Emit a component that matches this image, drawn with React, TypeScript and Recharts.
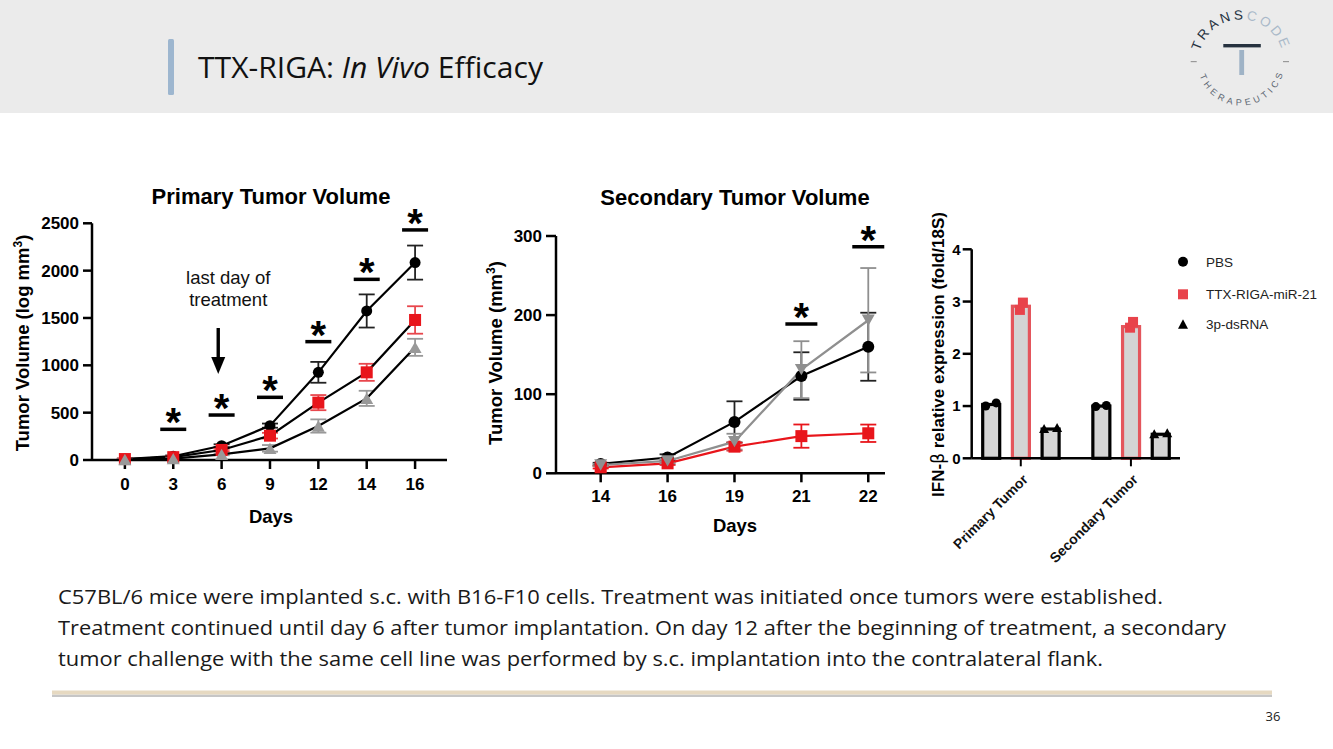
import React from 'react';
import { ComposedChart, BarChart, Bar, Line, XAxis, YAxis, ErrorBar, Scatter, Legend } from 'recharts';

// ---------- Primary tumor volume ----------
const primaryDays = ['0', '3', '6', '9', '12', '14', '16'];
const primaryPBS = [10, 40, 151, 363, 926, 1574, 2085];
const primaryPBSErr = [5, 8, 15, 22, 110, 175, 180];
const primaryTTX = [10, 30, 106, 257, 606, 926, 1479];
const primaryTTXErr = [5, 6, 12, 30, 80, 90, 145];
const primaryDs = [5, 15, 60, 123, 359, 651, 1190];
const primaryDsErr = [3, 5, 10, 35, 70, 80, 90];
const primarySig = [null, 324, 475, 662, 1250, 1908, 2430];
const primaryYTicks = [0, 500, 1000, 1500, 2000, 2500];

// ---------- Secondary tumor volume ----------
const secondaryDays = ['14', '16', '19', '21', '22'];
const secondaryPBS = [11.8, 20, 65, 123, 160];
const secondaryPBSErr = [1.5, 4, 26, 30, 43];
const secondaryTTX = [7.6, 12.6, 33.7, 47, 50.6];
const secondaryTTXErr = [1.5, 2, 5, 14.7, 11];
const secondaryDs = [10.5, 15.6, 40, 131, 193.5];
const secondaryDsErr = [1.5, 3, 10, 36, 66];
const secondarySig = [null, null, null, 188.7, 286.5];
const secondaryYTicks = [0, 100, 200, 300];

// ---------- IFN-beta expression ----------
const ifnGroups = ['Primary Tumor', 'Secondary Tumor'];
const ifnPBS = [1.03, 1.0];
const ifnTTX = [2.91, 2.52];
const ifnDs = [0.56, 0.46];
const ifnPBSReps = [[1.0, 1.06], [0.99, 1.01]];
const ifnTTXReps = [[2.84, 2.98], [2.5, 2.61]];
const ifnDsReps = [[0.56, 0.58], [0.46, 0.48]];
const ifnYTicks = [0, 1, 2, 3, 4];
const legendLabels = ['PBS', 'TTX-RIGA-miR-21', '3p-dsRNA'];

const captionLines = [
  'C57BL/6 mice were implanted s.c. with B16-F10 cells. Treatment was initiated once tumors were established.',
  'Treatment continued until day 6 after tumor implantation. On day 12 after the beginning of treatment, a secondary',
  'tumor challenge with the same cell line was performed by s.c. implantation into the contralateral flank.',
];

const FONT = "'Liberation Sans', Arial, sans-serif";
const RED = '#e8151b';
const GRAY = '#8f8f8f';

const primaryRows = primaryDays.map((d, i) => ({
  idx: i, day: d,
  pbs: primaryPBS[i], pbsErr: primaryPBSErr[i],
  ttx: primaryTTX[i], ttxErr: primaryTTXErr[i],
  ds: primaryDs[i], dsErr: primaryDsErr[i],
}));
const primarySigRows = primarySig.map((v, i) => ({ idx: i, sig: v })).filter((r) => r.sig !== null);

const secondaryRows = secondaryDays.map((d, i) => ({
  idx: i, day: d,
  pbs: secondaryPBS[i], pbsErr: secondaryPBSErr[i],
  ttx: secondaryTTX[i], ttxErr: secondaryTTXErr[i],
  ds: secondaryDs[i], dsErr: secondaryDsErr[i],
}));
const secondarySigRows = secondarySig.map((v, i) => ({ idx: i, sig: v })).filter((r) => r.sig !== null);

const ifnRows = ifnGroups.map((g, i) => ({ group: g, pbs: ifnPBS[i], ttx: ifnTTX[i], ds: ifnDs[i] }));

// ---------- marker renderers ----------
const circleDot = (color: string, r: number) => (p: any) => (
  <circle key={`c${p.index}`} cx={p.cx} cy={p.cy} r={r} fill={color} />
);
const squareDot = (color: string, s: number) => (p: any) => (
  <rect key={`s${p.index}`} x={p.cx - s / 2} y={p.cy - s / 2} width={s} height={s} fill={color} />
);
const triDot = (color: string, w: number, down: boolean) => (p: any) => {
  const h = w * 0.87;
  const pts = down
    ? `${p.cx - w / 2},${p.cy - h / 2} ${p.cx + w / 2},${p.cy - h / 2} ${p.cx},${p.cy + h / 2}`
    : `${p.cx - w / 2},${p.cy + h / 2} ${p.cx + w / 2},${p.cy + h / 2} ${p.cx},${p.cy - h / 2}`;
  return <polygon key={`t${p.index}`} points={pts} fill={color} />;
};

const sigShape = (half: number) => (p: any) => (
  <g>
    <line x1={p.cx - half} x2={p.cx + half} y1={p.cy} y2={p.cy} stroke="#000" strokeWidth={3.5} />
    <text x={p.cx} y={p.cy + 7} textAnchor="middle" fontSize={40} fontWeight={700} fill="#000" fontFamily={FONT}>*</text>
  </g>
);

const ARROW_X = 1.93;
const ARROW_Y = 1394;
const arrowShape = (p: any) => (
  <g>
    <line x1={p.cx} x2={p.cx} y1={p.cy} y2={p.cy + 32} stroke="#000" strokeWidth={3.4} />
    <polygon points={`${p.cx - 7},${p.cy + 29} ${p.cx + 7},${p.cy + 29} ${p.cx},${p.cy + 46}`} fill="#000" />
    <text x={p.cx + 10} y={p.cy - 44.4} textAnchor="middle" fontSize={18.5} fill="#111" fontFamily={FONT}>last day of</text>
    <text x={p.cx + 10} y={p.cy - 21.7} textAnchor="middle" fontSize={18.5} fill="#111" fontFamily={FONT}>treatment</text>
  </g>
);

const axisStyle = { stroke: '#000', strokeWidth: 2.5 };
const tickFont = (size: number) => ({ fill: '#000', fontSize: size, fontWeight: 700 });

function PrimaryChart() {
  return (
    <ComposedChart width={460} height={360} data={primaryRows}
      margin={{ top: 43.3, right: 13, bottom: 50, left: 0 }} style={{ fontFamily: FONT }}>
      <XAxis dataKey="idx" type="number" domain={[-0.68, 6.66]} ticks={[0, 1, 2, 3, 4, 5, 6]}
        tickFormatter={(v: number) => primaryDays[v]} height={30}
        axisLine={axisStyle} tickLine={axisStyle} tickSize={9} tickMargin={9} tick={tickFont(17)} />
      <YAxis type="number" domain={[0, 2500]} ticks={primaryYTicks} width={92}
        axisLine={axisStyle} tickLine={axisStyle} tickSize={9} tickMargin={4} tick={tickFont(17)} />
      <Line dataKey="pbs" stroke="#000" strokeWidth={2.2} dot={circleDot('#000', 5.5)} isAnimationActive={false}>
        <ErrorBar dataKey="pbsErr" width={8} stroke="#222" strokeWidth={1.8} direction="y" isAnimationActive={false} />
      </Line>
      <Line dataKey="ttx" stroke="#000" strokeWidth={2.2} dot={squareDot(RED, 12)} isAnimationActive={false}>
        <ErrorBar dataKey="ttxErr" width={8} stroke="#e8474d" strokeWidth={1.8} direction="y" isAnimationActive={false} />
      </Line>
      <Line dataKey="ds" stroke="#000" strokeWidth={2.2} dot={triDot('#999', 13, false)} isAnimationActive={false}>
        <ErrorBar dataKey="dsErr" width={8} stroke="#999" strokeWidth={1.8} direction="y" isAnimationActive={false} />
      </Line>
      <Scatter data={primarySigRows} dataKey="sig" shape={sigShape(13)} isAnimationActive={false} />
      <Scatter data={[{ idx: ARROW_X, arrow: ARROW_Y }]} dataKey="arrow" shape={arrowShape} isAnimationActive={false} />
    </ComposedChart>
  );
}

function SecondaryChart() {
  return (
    <ComposedChart width={430} height={360} data={secondaryRows}
      margin={{ top: 56, right: 15, bottom: 36.7, left: 0 }} style={{ fontFamily: FONT }}>
      <XAxis dataKey="idx" type="number" domain={[-0.668, 4.25]} ticks={[0, 1, 2, 3, 4]}
        tickFormatter={(v: number) => secondaryDays[v]} height={30}
        axisLine={axisStyle} tickLine={axisStyle} tickSize={9} tickMargin={8} tick={tickFont(17)} />
      <YAxis type="number" domain={[0, 300]} ticks={secondaryYTicks} width={86}
        axisLine={axisStyle} tickLine={axisStyle} tickSize={10} tickMargin={4} tick={tickFont(17)} />
      <Line dataKey="pbs" stroke="#000" strokeWidth={2.2} dot={circleDot('#000', 6)} isAnimationActive={false}>
        <ErrorBar dataKey="pbsErr" width={8} stroke="#222" strokeWidth={1.8} direction="y" isAnimationActive={false} />
      </Line>
      <Line dataKey="ttx" stroke={RED} strokeWidth={2.2} dot={squareDot(RED, 12)} isAnimationActive={false}>
        <ErrorBar dataKey="ttxErr" width={8} stroke={RED} strokeWidth={1.8} direction="y" isAnimationActive={false} />
      </Line>
      <Line dataKey="ds" stroke={GRAY} strokeWidth={2.2} dot={triDot(GRAY, 13, true)} isAnimationActive={false}>
        <ErrorBar dataKey="dsErr" width={8} stroke={GRAY} strokeWidth={1.8} direction="y" isAnimationActive={false} />
      </Line>
      <Scatter data={secondarySigRows} dataKey="sig" shape={sigShape(16)} isAnimationActive={false} />
    </ComposedChart>
  );
}

const makeBarShape = (key: 'pbs' | 'ttx' | 'ds', reps: number[][], stroke: string,
  marker: 'circle' | 'square' | 'triangle', markerColor: string, offsets: number[]) => (props: any) => {
  const { x, y, width, height, index, payload } = props;
  const val = payload[key];
  const base = y + height;
  const ppu = height / val;
  const cx = x + width / 2;
  return (
    <g>
      <rect x={x} y={y} width={width} height={height} fill="#d4d4d4" stroke={stroke} strokeWidth={3.2} />
      {reps[index].map((r, j) => {
        const mx = cx + offsets[j];
        const my = base - r * ppu;
        if (marker === 'circle') return <circle key={j} cx={mx} cy={my} r={4.5} fill={markerColor} />;
        if (marker === 'square') return <rect key={j} x={mx - 5} y={my - 5} width={10} height={10} fill={markerColor} />;
        return <polygon key={j} points={`${mx - 5},${my + 4} ${mx + 5},${my + 4} ${mx},${my - 5}`} fill={markerColor} />;
      })}
    </g>
  );
};

const RotTick = (p: any) => {
  const ax = p.x + 8;
  const ay = p.y + 12;
  return (
    <text x={ax} y={ay} transform={`rotate(-45, ${ax}, ${ay})`} textAnchor="end" fontSize={14}
      fontWeight={700} fill="#111" fontFamily={FONT}>{p.payload.value}</text>
  );
};

const legendMarkers = ['circle', 'square', 'triangle'];
const legendColors = ['#000', '#e8434b', '#000'];
const renderLegend = () => (
  <svg width={160} height={95}>
    {legendLabels.map((lab, i) => {
      const cy = [11.7, 44.3, 74.3][i];
      const m = legendMarkers[i];
      return (
        <g key={lab}>
          {m === 'circle' && <circle cx={8} cy={cy} r={5} fill={legendColors[i]} />}
          {m === 'square' && <rect x={3} y={cy - 5} width={10} height={10} fill={legendColors[i]} />}
          {m === 'triangle' && <polygon points={`3,${cy + 4.5} 13,${cy + 4.5} 8,${cy - 5}`} fill={legendColors[i]} />}
          <text x={31} y={cy + 5} fontSize={13.5} fill="#222" fontFamily={FONT}>{lab}</text>
        </g>
      );
    })}
  </svg>
);

function IfnChart() {
  return (
    <BarChart width={433} height={390} data={ifnRows} barSize={17} barGap={12.7}
      margin={{ top: 49.3, right: 153, bottom: 41.7, left: 0 }} style={{ fontFamily: FONT }}>
      <XAxis dataKey="group" type="category" height={90} padding={{ left: -6, right: -6 }}
        axisLine={axisStyle} tickLine={{ stroke: '#000', strokeWidth: 2 }} tickSize={8} tickMargin={2}
        tick={<RotTick />} interval={0} />
      <YAxis type="number" domain={[0, 4]} ticks={ifnYTicks} width={71.7}
        axisLine={axisStyle} tickLine={axisStyle} tickSize={9} tickMargin={2} tick={tickFont(15)} />
      <Bar dataKey="pbs" isAnimationActive={false}
        shape={makeBarShape('pbs', ifnPBSReps, '#000', 'circle', '#000', [-5.5, 5])} />
      <Bar dataKey="ttx" isAnimationActive={false}
        shape={makeBarShape('ttx', ifnTTXReps, '#e4555c', 'square', '#e8434b', [-1, 2])} />
      <Bar dataKey="ds" isAnimationActive={false}
        shape={makeBarShape('ds', ifnDsReps, '#000', 'triangle', '#000', [-6.5, 6.5])} />
      <Legend layout="vertical" align="center" verticalAlign="middle" content={renderLegend}
        wrapperStyle={{ left: 275, top: 50, width: 160, height: 95 }} />
    </BarChart>
  );
}

function Overlay() {
  const bold = { fontFamily: FONT, fontWeight: 700, fill: '#000' } as const;
  return (
    <svg width={1333} height={749} style={{ position: 'absolute', left: 0, top: 0 }}>
      <rect x={0} y={0} width={1333} height={113} fill="#ebebeb" />
      <rect x={168} y={39} width={6} height={56} rx={1.5} fill="#9db6cf" />
      <text x={198} y={78} fontFamily="'Open Sans', sans-serif" fontSize={30} fill="#111"
        textLength={345} lengthAdjust="spacingAndGlyphs">
        {'TTX-RIGA: '}<tspan fontStyle="italic">In Vivo</tspan>{' Efficacy'}
      </text>

      {/* logo */}
      <defs>
        <path id="logoTop" d="M 1198.5 62 A 42.5 42.5 0 0 1 1283.5 62" />
        <path id="logoBot" d="M 1197.5 62 A 43.5 43.5 0 0 0 1284.5 62" />
      </defs>
      <text fontFamily={FONT} fontSize={13.5} letterSpacing={3} fontWeight={500}>
        <textPath href="#logoTop" startOffset="50%" textAnchor="middle">
          <tspan fill="#24313f">TRANS</tspan><tspan fill="#a9b9c9">CODE</tspan>
        </textPath>
      </text>
      <text fontFamily={FONT} fontSize={9} letterSpacing={3.7} fill="#5d6772">
        <textPath href="#logoBot" startOffset="52%" textAnchor="middle">THERAPEUTICS</textPath>
      </text>
      <rect x={1223.3} y={44} width={37.5} height={3.4} fill="#26323f" />
      <rect x={1239.3} y={50} width={4.8} height={25} fill="#9fb3c6" />
      <rect x={1190.7} y={61} width={6} height={1.2} fill="#999" />
      <rect x={1283} y={61} width={6} height={1.2} fill="#999" />

      {/* chart titles & axis titles */}
      <text x={271} y={204} textAnchor="middle" fontSize={22} {...bold}>Primary Tumor Volume</text>
      <text transform="translate(29,343) rotate(-90)" textAnchor="middle" fontSize={18.5} {...bold}>
        Tumor Volume (log mm<tspan dy={-7} fontSize={12}>3</tspan><tspan dy={7}>)</tspan>
      </text>
      <text x={271} y={523} textAnchor="middle" fontSize={18.5} {...bold}>Days</text>

      <text x={735} y={205} textAnchor="middle" fontSize={22} {...bold}>Secondary Tumor Volume</text>
      <text transform="translate(502,353) rotate(-90)" textAnchor="middle" fontSize={18.5} {...bold}>
        Tumor Volume (mm<tspan dy={-7} fontSize={12}>3</tspan><tspan dy={7}>)</tspan>
      </text>
      <text x={735} y={531.7} textAnchor="middle" fontSize={18.5} {...bold}>Days</text>

      <text transform="translate(944,354.5) rotate(-90)" textAnchor="middle" fontSize={17} {...bold}>
        IFN-<tspan fontWeight={400} fontFamily="'DejaVu Sans', sans-serif">β</tspan> relative expression (fold/18S)
      </text>

      {/* caption */}
      {captionLines.map((t, i) => (
        <text key={i} x={58} y={604 + i * 31} fontFamily="'Open Sans', sans-serif" fontSize={19.5} fill="#1a1a1a"
          textLength={[1105, 1168, 1045][i]} lengthAdjust="spacingAndGlyphs">{t}</text>
      ))}

      {/* footer */}
      <rect x={52} y={694.5} width={1220} height={2.5} fill="#b8b8b8" opacity={0.8} />
      <rect x={52} y={690.5} width={1220} height={4} fill="#e6d9c1" />
      <text x={1273} y={721} textAnchor="middle" fontFamily="'Open Sans', sans-serif" fontSize={13} fill="#222">36</text>
    </svg>
  );
}

export default function App() {
  return (
    <div style={{ position: 'absolute', left: 0, top: 0, width: 1333, height: 749, background: '#fff', overflow: 'hidden' }}>
      <Overlay />
      <div style={{ position: 'absolute', left: 0, top: 180 }}><PrimaryChart /></div>
      <div style={{ position: 'absolute', left: 470, top: 180 }}><SecondaryChart /></div>
      <div style={{ position: 'absolute', left: 900, top: 200 }}><IfnChart /></div>
    </div>
  );
}
